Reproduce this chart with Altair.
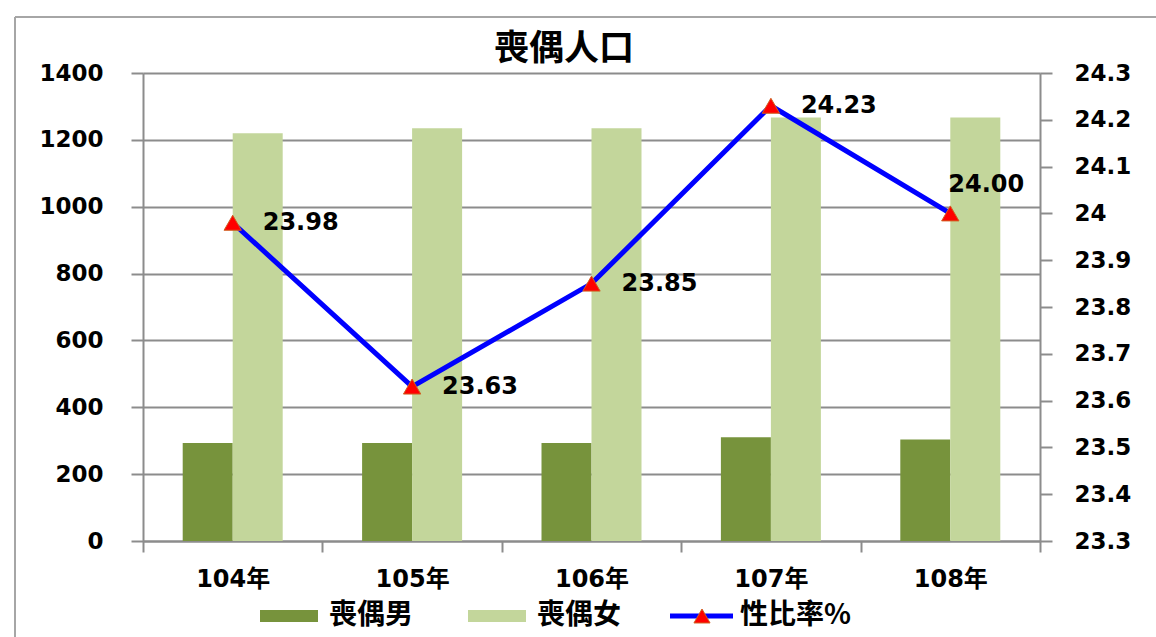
import altair as alt
import pandas as pd

# ---- data ----
years = ["104年", "105年", "106年", "107年", "108年"]
male = [293, 293, 293, 310, 304]          # 喪偶男
female = [1220, 1235, 1235, 1267, 1267]   # 喪偶女
ratio = [23.98, 23.63, 23.85, 24.23, 24.00]  # 性比率%
series_names = ["喪偶男", "喪偶女", "性比率%"]
left_ticks = [0, 200, 400, 600, 800, 1000, 1200, 1400]
right_ticks = [23.3, 23.4, 23.5, 23.6, 23.7, 23.8, 23.9, 24.0, 24.1, 24.2, 24.3]
title_text = "喪偶人口"

colors = ["#77933c", "#c3d69b", "#0000ff"]
NUM_FONT = "DejaVu Sans"
CJK_FONT = "Noto Sans CJK TC"
GRID = "#8c8c8c"

bars_df = pd.DataFrame({
    "year": years * 2,
    "series": [series_names[0]] * len(years) + [series_names[1]] * len(years),
    "value": male + female,
})
line_df = pd.DataFrame({"year": years, "ratio": ratio})

x_enc = alt.X(
    "year:N", sort=years, title=None,
    scale=alt.Scale(paddingInner=0, paddingOuter=0),
    axis=alt.Axis(
        labelAngle=0, tickBand="extent", tickSize=11, tickColor=GRID, tickWidth=2,
        domainColor=GRID, domainWidth=2, labelPadding=15,
        labelFont=NUM_FONT + ", " + CJK_FONT, labelFontSize=24, labelFontWeight="bold",
        labelColor="black", grid=False,
    ),
)

bars = alt.Chart(bars_df).mark_bar().encode(
    x=x_enc,
    xOffset=alt.XOffset("series:N", sort=series_names[:2],
                        scale=alt.Scale(paddingInner=0, paddingOuter=0.794)),
    y=alt.Y("value:Q", title=None,
            scale=alt.Scale(domain=[0, 1400], nice=False),
            axis=alt.Axis(orient="left", values=left_ticks, format="d", grid=True,
                          gridColor=GRID, gridWidth=2, tickSize=12, tickColor=GRID,
                          tickWidth=2, domainColor=GRID, domainWidth=2, labelPadding=28,
                          labelFont=NUM_FONT, labelFontSize=23, labelFontWeight="bold",
                          labelColor="black")),
    color=alt.Color("series:N", scale=alt.Scale(domain=series_names[:2], range=colors[:2]),
                    legend=None),
)

y_right = alt.Y("ratio:Q", title=None,
                scale=alt.Scale(domain=[23.3, 24.3], nice=False, zero=False),
                axis=alt.Axis(orient="right", values=right_ticks, grid=False,
                              labelExpr="format(datum.value, '.3~g')",
                              tickSize=12, tickColor=GRID, tickWidth=2,
                              domainColor=GRID, domainWidth=2, labelPadding=22,
                              labelFont=NUM_FONT, labelFontSize=23, labelFontWeight="bold",
                              labelColor="black"))

line = alt.Chart(line_df).mark_line(color=colors[2], strokeWidth=5).encode(
    x=alt.X("year:N", sort=years), y=y_right)
points = alt.Chart(line_df).mark_point(shape="triangle-up", filled=True, fill="#ff0000",
                                       stroke="#d06020", strokeWidth=1, size=300,
                                       opacity=1).encode(
    x=alt.X("year:N", sort=years), y=y_right)
labels_a = alt.Chart(line_df).transform_filter(alt.datum.year != years[-1]).mark_text(
    align="left", baseline="middle", dx=30, font=NUM_FONT, fontSize=24, fontWeight="bold",
    color="black").encode(x=alt.X("year:N", sort=years), y=y_right,
                          text=alt.Text("ratio:Q", format=".2f"))
labels_b = alt.Chart(line_df).transform_filter(alt.datum.year == years[-1]).mark_text(
    align="center", baseline="middle", dx=36, dy=-28, font=NUM_FONT, fontSize=24,
    fontWeight="bold", color="black").encode(x=alt.X("year:N", sort=years), y=y_right,
                                             text=alt.Text("ratio:Q", format=".2f"))

right_layer = alt.layer(line, points, labels_a, labels_b)

# ---- custom legend and title (positions relative to plot area) ----
leg_y = 543
def one(name):
    return pd.DataFrame({"name": [name]})

leg_rect1 = alt.Chart(one(series_names[0])).mark_rect(color=colors[0]).encode(
    x=alt.value(117), x2=alt.value(175), y=alt.value(leg_y - 6), y2=alt.value(leg_y + 6))
leg_rect2 = alt.Chart(one(series_names[1])).mark_rect(color=colors[1]).encode(
    x=alt.value(325), x2=alt.value(383), y=alt.value(leg_y - 6), y2=alt.value(leg_y + 6))
leg_line = alt.Chart(one(series_names[2])).mark_rule(color=colors[2], strokeWidth=5).encode(
    x=alt.value(527), x2=alt.value(590), y=alt.value(leg_y))
leg_tri = alt.Chart(one(series_names[2])).mark_point(shape="triangle-up", filled=True,
                                                    fill="#ff0000", stroke="#d06020",
                                                    strokeWidth=1, size=260, opacity=1).encode(
    x=alt.value(559), y=alt.value(leg_y))

def leg_text(name, xpos):
    return alt.Chart(one(name)).mark_text(align="left", baseline="middle", font=CJK_FONT,
                                          fontSize=28, fontWeight="bold", color="black").encode(
        x=alt.value(xpos), y=alt.value(leg_y), text="name:N")

leg_t1 = leg_text(series_names[0], 186)
leg_t2 = leg_text(series_names[1], 394)
leg_t3 = leg_text(series_names[2], 597)

title_layer = alt.Chart(one(title_text)).mark_text(
    align="center", baseline="middle", font=CJK_FONT, fontSize=35, fontWeight="bold",
    color="black").encode(x=alt.value(421), y=alt.value(-24), text="name:N")

# ---- chart border (Excel frame) ----
border_df = pd.DataFrame({"k": [0]})
border_top = alt.Chart(border_df).mark_rule(color="#a6a6a6", strokeWidth=2).encode(
    x=alt.value(-128), x2=alt.value(1013), y=alt.value(-56))
border_left = alt.Chart(border_df).mark_rule(color="#a6a6a6", strokeWidth=2).encode(
    x=alt.value(-128), y=alt.value(-56), y2=alt.value(564))

chart = alt.layer(
    bars, right_layer,
    leg_rect1, leg_rect2, leg_line, leg_tri, leg_t1, leg_t2, leg_t3,
    title_layer, border_top, border_left,
).resolve_scale(y="independent").properties(
    width=897, height=468,
    autosize=alt.AutoSizeParams(type="none"),
    padding={"left": 143, "top": 73, "right": 116, "bottom": 96},
).configure_view(stroke=None).configure(background="white")

chart.save("out.html", embed_options={"renderer": "svg", "actions": False})
